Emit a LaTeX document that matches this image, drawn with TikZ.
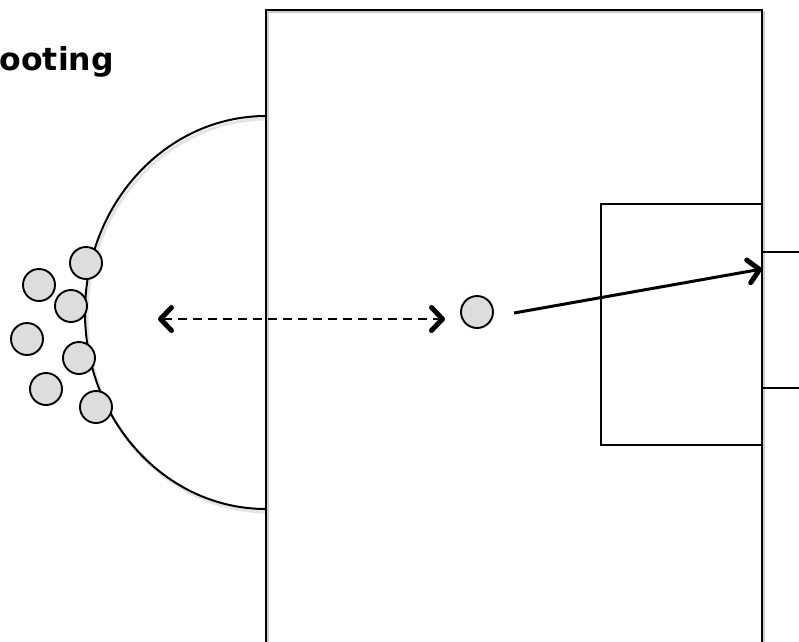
\documentclass[tikz,border=0pt]{standalone}
\usepackage{fontspec}
\setmainfont{DejaVu Sans}
\usetikzlibrary{arrows.meta}
\definecolor{playerfill}{HTML}{DDDDDD}
\tikzset{
  fieldline/.style={draw=black, line width=2pt},
  player/.style={circle, draw=black, line width=1.9pt, fill=playerfill, minimum size=32pt, inner sep=0pt},
  chevron/.tip={Straight Barb[length=11pt, width=23pt, line width'=5pt, round]},
  runline/.style={line width=2.8pt, dash pattern=on 9pt off 6pt, chevron-chevron},
  shotline/.style={line width=3pt, -chevron},
  titletext/.style={inner sep=0pt, anchor=base east, font=\fontsize{31.5}{36}\selectfont\bfseries}
}
\begin{document}
\begin{tikzpicture}[x=1pt, y=-1pt]
  \useasboundingbox (0,0) rectangle (799,641);
  \clip (0,0) rectangle (799,641);
  \fill[white] (0,0) rectangle (799,641);

  % heading
  \node[titletext] (title) at (114,70) {ooting};

  % soft shadow under the shooting arc
  \draw[gray!35, line width=3pt, opacity=0.6] (268,119) arc[start angle=-90, end angle=-270, x radius=181, y radius=196.5];
  % shooting arc
  \draw[fieldline] (266,116) arc[start angle=-90, end angle=-270, x radius=181, y radius=196.5];

  % pitch outline
  \draw[gray!40, line width=2pt] (268,660) -- (268,12) -- (764,12) -- (764,660);
  \draw[fieldline] (266,660) -- (266,10) -- (762,10) -- (762,660);
  % penalty box
  \draw[fieldline] (762,204) -- (601,204) -- (601,445) -- (762,445);
  % goal
  \draw[fieldline] (820,252) -- (762,252) -- (762,388) -- (820,388);

  % players waiting on the arc
  \node[player] (p1) at (86,263) {};
  \node[player] (p2) at (39,285) {};
  \node[player] (p3) at (71,306) {};
  \node[player] (p4) at (27,339) {};
  \node[player] (p5) at (79,358) {};
  \node[player] (p6) at (46,389) {};
  \node[player] (p7) at (96,407) {};

  % shooter
  \node[player] (ball) at (477,312) {};

  % run in and out
  \coordinate (runstart) at (158,319);
  \coordinate (runend) at (445,319);
  \draw[runline] (runstart) -- (runend);

  % shot on goal
  \coordinate (shotstart) at (514,313);
  \coordinate (shotend) at (762,269);
  \draw[shotline] (shotstart) -- (shotend);
\end{tikzpicture}
\end{document}
